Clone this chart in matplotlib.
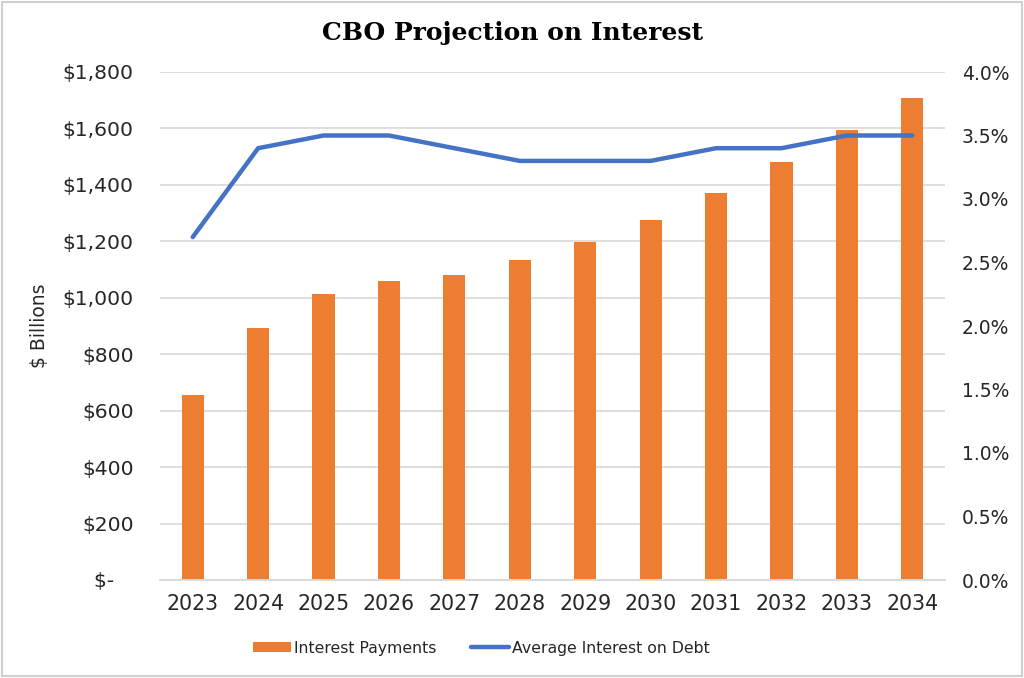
import matplotlib.pyplot as plt
from matplotlib.ticker import FuncFormatter

years = ["2023", "2024", "2025", "2026", "2027", "2028",
         "2029", "2030", "2031", "2032", "2033", "2034"]
interest_payments = [655, 893, 1014, 1058, 1082, 1135,
                     1199, 1277, 1371, 1482, 1593, 1709]
avg_interest = [2.7, 3.4, 3.5, 3.5, 3.4, 3.3,
                3.3, 3.3, 3.4, 3.4, 3.5, 3.5]

orange = "#ED7D31"
blue = "#4472C4"
grid_col = "#D9D9D9"
text_col = "#262626"

fig = plt.figure(figsize=(10.24, 6.78), dpi=100)
ax = fig.add_axes([160 / 1024, 1 - 580 / 678, 785 / 1024, 508 / 678])
ax2 = ax.twinx()

x = list(range(len(years)))
bars = ax.bar(x, interest_payments, width=0.34, color=orange, zorder=2,
              label="Interest Payments")
line, = ax2.plot(x, avg_interest, color=blue, linewidth=3.2,
                 solid_capstyle="round", zorder=3,
                 label="Average Interest on Debt")

ax.set_xlim(-0.5, len(years) - 0.5)
ax.set_ylim(0, 1800)
ax.set_yticks(range(0, 1801, 200))
ax.yaxis.set_major_formatter(FuncFormatter(
    lambda v, p: "$-   " if v == 0 else f"${v:,.0f}"))
ax2.set_ylim(0, 4.0)
ax2.set_yticks([i * 0.5 for i in range(9)])
ax2.yaxis.set_major_formatter(FuncFormatter(lambda v, p: f"{v:.1f}%"))

ax.set_xticks(x)
ax.set_xticklabels(years)

ax.grid(axis="y", color=grid_col, linewidth=1.2, zorder=0)
ax.set_axisbelow(True)
for a in (ax, ax2):
    for s in ("top", "left", "right"):
        a.spines[s].set_visible(False)
    a.spines["bottom"].set_color(grid_col)
    a.spines["bottom"].set_linewidth(1.2)
    a.tick_params(length=0, labelcolor=text_col)
ax.tick_params(axis="x", pad=10, labelsize=14.8)
ax.tick_params(axis="y", pad=19, labelsize=14.6)
ax2.tick_params(axis="y", pad=12, labelsize=13.5)

ax.set_ylabel("$ Billions", fontsize=13.5, color=text_col, labelpad=10)

fig.text(0.5, 0.952, "CBO Projection on Interest", ha="center", va="center",
         fontsize=18, fontweight="bold", family="DejaVu Serif", color="black")

fig.legend(handles=[bars, line], loc="center", bbox_to_anchor=(0.47, 0.044),
           ncol=2, frameon=False, fontsize=11.3, handlelength=2.4,
           handleheight=0.6, columnspacing=2.2, handletextpad=0.2,
           labelcolor=text_col)

# light frame round the whole chart
fig.patches.append(plt.Rectangle((0.002, 0.003), 0.996, 0.994,
                                 transform=fig.transFigure, fill=False,
                                 edgecolor="#D0D0D0", linewidth=1.5))

plt.savefig("out.png", dpi=100)
